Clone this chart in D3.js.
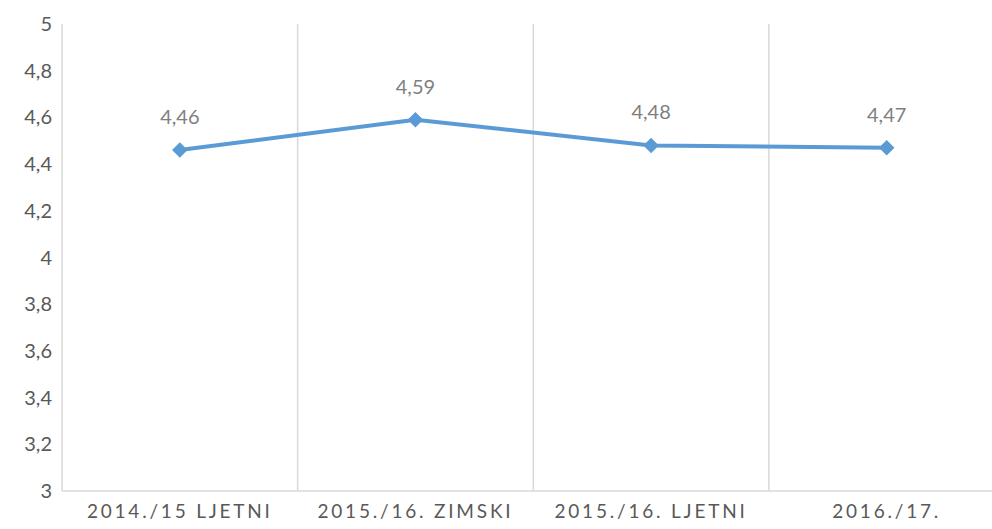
<!DOCTYPE html>
<html>
<head>
<meta charset="utf-8">
<script src="https://cdn.jsdelivr.net/npm/d3@7"></script>
<style>
    html, body { margin: 0; padding: 0; background: #fff; overflow: hidden; }
    text { font-family: Lato, "Open Sans", sans-serif; }
</style>
</head>
<body>
<div id="chart"></div>
<script>
const width = 992;
const height = 529;

const categories = ["2014./15 LJETNI", "2015./16. ZIMSKI", "2015./16. LJETNI", "2016./17."];
const values = [4.46, 4.59, 4.48, 4.47];
const yTicks = [3, 3.2, 3.4, 3.6, 3.8, 4, 4.2, 4.4, 4.6, 4.8, 5];

// plot area runs past the right edge of the window, like the original crop
const margin = { left: 62, top: 24, bottom: 38 };
const plotWidth = 942.5;

const svg = d3.select("#chart")
    .append("svg")
    .attr("width", width)
    .attr("height", height);

const x = d3.scaleBand()
    .domain(categories)
    .range([margin.left, margin.left + plotWidth]);

const y = d3.scaleLinear()
    .domain([3, 5])
    .range([height - margin.bottom, margin.top]);

const fmt = v => String(v).replace(".", ",");

// vertical separators between categories
svg.append("g")
    .selectAll("line")
    .data(categories)
    .join("line")
    .attr("x1", d => x(d))
    .attr("x2", d => x(d))
    .attr("y1", y(5))
    .attr("y2", y(3))
    .attr("stroke", "#d9d9d9")
    .attr("stroke-width", 1.5);

// baseline
svg.append("line")
    .attr("x1", margin.left)
    .attr("x2", margin.left + plotWidth)
    .attr("y1", y(3))
    .attr("y2", y(3))
    .attr("stroke", "#d9d9d9")
    .attr("stroke-width", 1.5);

// y tick labels
svg.append("g")
    .selectAll("text")
    .data(yTicks)
    .join("text")
    .attr("x", 52)
    .attr("y", d => y(d))
    .attr("dy", "0.35em")
    .attr("text-anchor", "end")
    .attr("fill", "#595959")
    .attr("font-size", 20)
    .text(fmt);

// category labels
svg.append("g")
    .selectAll("text")
    .data(categories)
    .join("text")
    .attr("x", d => x(d) + x.bandwidth() / 2)
    .attr("y", 518)
    .attr("text-anchor", "middle")
    .attr("fill", "#595959")
    .attr("font-size", 19)
    .attr("letter-spacing", "2.8px")
    .text(d => d);

const cx = (d, i) => x(categories[i]) + x.bandwidth() / 2;

const line = d3.line()
    .x((d, i) => cx(d, i))
    .y(d => y(d));

svg.append("path")
    .datum(values)
    .attr("d", line)
    .attr("fill", "none")
    .attr("stroke", "#5b9bd5")
    .attr("stroke-width", 4)
    .attr("stroke-linejoin", "round");

// diamond markers
svg.append("g")
    .selectAll("path")
    .data(values)
    .join("path")
    .attr("transform", (d, i) => `translate(${cx(d, i)},${y(d)}) rotate(45)`)
    .attr("d", d3.symbol().type(d3.symbolSquare).size(120))
    .attr("fill", "#5b9bd5");

// data labels
svg.append("g")
    .selectAll("text")
    .data(values)
    .join("text")
    .attr("x", (d, i) => cx(d, i))
    .attr("y", d => y(d) - 33)
    .attr("dy", "0.35em")
    .attr("text-anchor", "middle")
    .attr("fill", "#7f7f7f")
    .attr("font-size", 20)
    .text(d => fmt(d));
</script>
</body>
</html>
